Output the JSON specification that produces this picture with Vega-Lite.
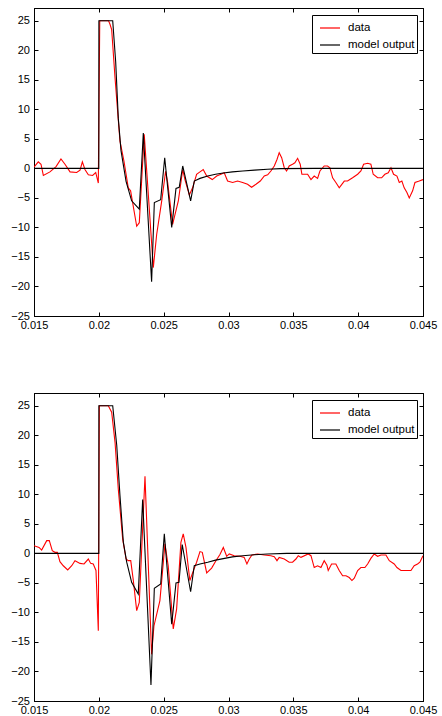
{
  "$schema": "https://vega.github.io/schema/vega-lite/v6.json",
  "padding": {"left": 10, "top": 7, "right": 0, "bottom": 0},
  "background": "white",
  "datasets": {
    "top": [
      {"s": "data", "t": 0.015, "v": 0.2}, {"s": "data", "t": 0.01533, "v": 1.1}, {"s": "data", "t": 0.01554, "v": 0.7},
      {"s": "data", "t": 0.01572, "v": -1.2}, {"s": "data", "t": 0.01623, "v": -0.6}, {"s": "data", "t": 0.0167, "v": 0.3},
      {"s": "data", "t": 0.01708, "v": 1.6}, {"s": "data", "t": 0.01739, "v": 0.7}, {"s": "data", "t": 0.01778, "v": -0.6},
      {"s": "data", "t": 0.01829, "v": -0.7}, {"s": "data", "t": 0.01855, "v": -0.3}, {"s": "data", "t": 0.01873, "v": 1.1},
      {"s": "data", "t": 0.01893, "v": -0.2}, {"s": "data", "t": 0.01919, "v": -1.1}, {"s": "data", "t": 0.01952, "v": -1.2},
      {"s": "data", "t": 0.01976, "v": -0.7}, {"s": "data", "t": 0.01996, "v": -2.5}, {"s": "data", "t": 0.02007, "v": 25},
      {"s": "data", "t": 0.02075, "v": 25}, {"s": "data", "t": 0.02086, "v": 24.4}, {"s": "data", "t": 0.02099, "v": 23.5},
      {"s": "data", "t": 0.02125, "v": 15.3}, {"s": "data", "t": 0.02163, "v": 4.6}, {"s": "data", "t": 0.02194, "v": 1.2},
      {"s": "data", "t": 0.02227, "v": -3.3}, {"s": "data", "t": 0.02245, "v": -3.8}, {"s": "data", "t": 0.02292, "v": -9.8},
      {"s": "data", "t": 0.02312, "v": -9.2}, {"s": "data", "t": 0.0235, "v": 5.75}, {"s": "data", "t": 0.0242, "v": -16.8},
      {"s": "data", "t": 0.02446, "v": -11.2}, {"s": "data", "t": 0.02485, "v": -5.5}, {"s": "data", "t": 0.02515, "v": -0.5},
      {"s": "data", "t": 0.02531, "v": -2.4}, {"s": "data", "t": 0.02569, "v": -9.5}, {"s": "data", "t": 0.02613, "v": -5.5},
      {"s": "data", "t": 0.02647, "v": -0.2}, {"s": "data", "t": 0.02664, "v": -1.9}, {"s": "data", "t": 0.02698, "v": -4.5},
      {"s": "data", "t": 0.02723, "v": -3.3}, {"s": "data", "t": 0.02754, "v": -1.0}, {"s": "data", "t": 0.0278, "v": -0.6},
      {"s": "data", "t": 0.02805, "v": -0.2}, {"s": "data", "t": 0.02832, "v": -1.3}, {"s": "data", "t": 0.02875, "v": -1.9},
      {"s": "data", "t": 0.02909, "v": -1.3}, {"s": "data", "t": 0.02942, "v": -1.0}, {"s": "data", "t": 0.02967, "v": -0.75},
      {"s": "data", "t": 0.02993, "v": -2.15}, {"s": "data", "t": 0.03032, "v": -2.4}, {"s": "data", "t": 0.0307, "v": -2.15},
      {"s": "data", "t": 0.03109, "v": -2.4}, {"s": "data", "t": 0.03147, "v": -2.7}, {"s": "data", "t": 0.03178, "v": -3.2},
      {"s": "data", "t": 0.03212, "v": -2.7}, {"s": "data", "t": 0.03245, "v": -2.15}, {"s": "data", "t": 0.03276, "v": -1.3},
      {"s": "data", "t": 0.03302, "v": -1.1}, {"s": "data", "t": 0.03327, "v": -0.45}, {"s": "data", "t": 0.03353, "v": 0.4},
      {"s": "data", "t": 0.03374, "v": 1.5}, {"s": "data", "t": 0.03391, "v": 2.65}, {"s": "data", "t": 0.0341, "v": 1.8},
      {"s": "data", "t": 0.0343, "v": 0.1}, {"s": "data", "t": 0.03448, "v": -0.45}, {"s": "data", "t": 0.03468, "v": 0.4},
      {"s": "data", "t": 0.03494, "v": 0.7}, {"s": "data", "t": 0.03512, "v": 0.95}, {"s": "data", "t": 0.03533, "v": 1.7},
      {"s": "data", "t": 0.03553, "v": 0.7}, {"s": "data", "t": 0.03566, "v": -1.0}, {"s": "data", "t": 0.0361, "v": -1.0},
      {"s": "data", "t": 0.03636, "v": -1.9}, {"s": "data", "t": 0.03661, "v": -1.3}, {"s": "data", "t": 0.03687, "v": -1.7},
      {"s": "data", "t": 0.03705, "v": -0.45}, {"s": "data", "t": 0.03738, "v": 0.4}, {"s": "data", "t": 0.03764, "v": 0.4},
      {"s": "data", "t": 0.03782, "v": 0.1}, {"s": "data", "t": 0.03803, "v": -1.6}, {"s": "data", "t": 0.03828, "v": -2.4},
      {"s": "data", "t": 0.03854, "v": -3.3}, {"s": "data", "t": 0.03893, "v": -2.15}, {"s": "data", "t": 0.03918, "v": -2.15},
      {"s": "data", "t": 0.03957, "v": -1.6}, {"s": "data", "t": 0.03996, "v": -1.0}, {"s": "data", "t": 0.04021, "v": -0.45},
      {"s": "data", "t": 0.04042, "v": 0.7}, {"s": "data", "t": 0.04073, "v": 0.85}, {"s": "data", "t": 0.04098, "v": 0.7},
      {"s": "data", "t": 0.04116, "v": -1.0}, {"s": "data", "t": 0.0415, "v": -1.6}, {"s": "data", "t": 0.04181, "v": -1.6},
      {"s": "data", "t": 0.04206, "v": -1.0}, {"s": "data", "t": 0.04232, "v": -0.75}, {"s": "data", "t": 0.04253, "v": 0.1},
      {"s": "data", "t": 0.04273, "v": -1.0}, {"s": "data", "t": 0.04299, "v": -1.3}, {"s": "data", "t": 0.04317, "v": -2.4},
      {"s": "data", "t": 0.04337, "v": -2.15}, {"s": "data", "t": 0.04355, "v": -3.3}, {"s": "data", "t": 0.04376, "v": -4.1},
      {"s": "data", "t": 0.04394, "v": -5.0}, {"s": "data", "t": 0.0442, "v": -3.8}, {"s": "data", "t": 0.04438, "v": -2.4},
      {"s": "data", "t": 0.04471, "v": -2.15}, {"s": "data", "t": 0.045, "v": -1.9},
      {"s": "model output", "t": 0.015, "v": 0}, {"s": "model output", "t": 0.02, "v": 0}, {"s": "model output", "t": 0.020005, "v": 25},
      {"s": "model output", "t": 0.02107, "v": 25}, {"s": "model output", "t": 0.0213, "v": 18}, {"s": "model output", "t": 0.0215, "v": 8.5},
      {"s": "model output", "t": 0.02171, "v": 3.0}, {"s": "model output", "t": 0.0221, "v": -2.2}, {"s": "model output", "t": 0.02253, "v": -5.5},
      {"s": "model output", "t": 0.02312, "v": -6.9}, {"s": "model output", "t": 0.02343, "v": 6.0}, {"s": "model output", "t": 0.02407, "v": -19.2},
      {"s": "model output", "t": 0.02428, "v": -5.8}, {"s": "model output", "t": 0.02477, "v": -5.3}, {"s": "model output", "t": 0.02508, "v": 1.8},
      {"s": "model output", "t": 0.02562, "v": -10.0}, {"s": "model output", "t": 0.02595, "v": -3.4}, {"s": "model output", "t": 0.0262, "v": -3.2},
      {"s": "model output", "t": 0.02647, "v": 0.4}, {"s": "model output", "t": 0.02708, "v": -5.5}, {"s": "model output", "t": 0.02736, "v": -2.15},
      {"s": "model output", "t": 0.0278, "v": -1.7}, {"s": "model output", "t": 0.0284, "v": -1.3}, {"s": "model output", "t": 0.029, "v": -1.0},
      {"s": "model output", "t": 0.0296, "v": -0.8}, {"s": "model output", "t": 0.0303, "v": -0.6}, {"s": "model output", "t": 0.0311, "v": -0.45},
      {"s": "model output", "t": 0.032, "v": -0.3}, {"s": "model output", "t": 0.033, "v": -0.15}, {"s": "model output", "t": 0.034, "v": -0.05},
      {"s": "model output", "t": 0.0367, "v": 0}, {"s": "model output", "t": 0.045, "v": 0}
    ],
    "bottom": [
      {"s": "data", "t": 0.015, "v": 1.3}, {"s": "data", "t": 0.01539, "v": 1.0}, {"s": "data", "t": 0.01559, "v": 0.56},
      {"s": "data", "t": 0.01598, "v": 2.15}, {"s": "data", "t": 0.01618, "v": 2.15}, {"s": "data", "t": 0.01641, "v": 0.45},
      {"s": "data", "t": 0.01662, "v": 0.17}, {"s": "data", "t": 0.0168, "v": 0.17}, {"s": "data", "t": 0.017, "v": -1.4},
      {"s": "data", "t": 0.01726, "v": -2.1}, {"s": "data", "t": 0.0176, "v": -2.8}, {"s": "data", "t": 0.01791, "v": -2.1},
      {"s": "data", "t": 0.01816, "v": -1.24}, {"s": "data", "t": 0.01855, "v": -1.7}, {"s": "data", "t": 0.01886, "v": -1.8},
      {"s": "data", "t": 0.01919, "v": -0.96}, {"s": "data", "t": 0.01937, "v": -1.7}, {"s": "data", "t": 0.01957, "v": -1.8},
      {"s": "data", "t": 0.01978, "v": -2.9}, {"s": "data", "t": 0.01996, "v": -13.1}, {"s": "data", "t": 0.02004, "v": 25},
      {"s": "data", "t": 0.02073, "v": 25}, {"s": "data", "t": 0.02099, "v": 23.9}, {"s": "data", "t": 0.02125, "v": 18.8},
      {"s": "data", "t": 0.0215, "v": 10.9}, {"s": "data", "t": 0.02184, "v": 2.4}, {"s": "data", "t": 0.0221, "v": -0.96},
      {"s": "data", "t": 0.02227, "v": -1.24}, {"s": "data", "t": 0.02246, "v": -1.24}, {"s": "data", "t": 0.02266, "v": -4.6},
      {"s": "data", "t": 0.02292, "v": -9.7}, {"s": "data", "t": 0.02312, "v": -8.3}, {"s": "data", "t": 0.02356, "v": 13.05},
      {"s": "data", "t": 0.02407, "v": -17.1}, {"s": "data", "t": 0.02425, "v": -12.3}, {"s": "data", "t": 0.02471, "v": -8.0},
      {"s": "data", "t": 0.0251, "v": 1.6}, {"s": "data", "t": 0.02535, "v": -2.1}, {"s": "data", "t": 0.02554, "v": -7.2},
      {"s": "data", "t": 0.02574, "v": -12.8}, {"s": "data", "t": 0.026, "v": -9.4}, {"s": "data", "t": 0.02633, "v": 1.86},
      {"s": "data", "t": 0.02651, "v": 3.3}, {"s": "data", "t": 0.02672, "v": 1.0}, {"s": "data", "t": 0.02702, "v": -4.6},
      {"s": "data", "t": 0.02728, "v": -3.0}, {"s": "data", "t": 0.02754, "v": -1.5}, {"s": "data", "t": 0.0278, "v": 0.3},
      {"s": "data", "t": 0.02798, "v": 0.17}, {"s": "data", "t": 0.02832, "v": -3.3}, {"s": "data", "t": 0.0287, "v": -2.5},
      {"s": "data", "t": 0.02903, "v": -1.24}, {"s": "data", "t": 0.02934, "v": -0.2}, {"s": "data", "t": 0.0296, "v": 1.0},
      {"s": "data", "t": 0.02986, "v": -0.5}, {"s": "data", "t": 0.03006, "v": -0.1}, {"s": "data", "t": 0.03044, "v": -0.4},
      {"s": "data", "t": 0.03089, "v": -0.5}, {"s": "data", "t": 0.03121, "v": -0.68}, {"s": "data", "t": 0.03142, "v": -1.8},
      {"s": "data", "t": 0.0316, "v": -0.96}, {"s": "data", "t": 0.03181, "v": -0.28}, {"s": "data", "t": 0.03225, "v": -0.1},
      {"s": "data", "t": 0.03276, "v": -0.28}, {"s": "data", "t": 0.03327, "v": -0.4}, {"s": "data", "t": 0.03353, "v": -0.56},
      {"s": "data", "t": 0.03374, "v": -1.24}, {"s": "data", "t": 0.03391, "v": -0.68}, {"s": "data", "t": 0.0343, "v": -0.96},
      {"s": "data", "t": 0.03468, "v": -1.5}, {"s": "data", "t": 0.03494, "v": -1.5}, {"s": "data", "t": 0.0352, "v": -0.96},
      {"s": "data", "t": 0.03538, "v": -0.4}, {"s": "data", "t": 0.03559, "v": -0.68}, {"s": "data", "t": 0.03615, "v": -0.1},
      {"s": "data", "t": 0.03636, "v": -0.4}, {"s": "data", "t": 0.03661, "v": -2.4}, {"s": "data", "t": 0.03687, "v": -2.1},
      {"s": "data", "t": 0.03713, "v": -2.4}, {"s": "data", "t": 0.03738, "v": -1.24}, {"s": "data", "t": 0.03759, "v": -2.0},
      {"s": "data", "t": 0.03769, "v": -2.9}, {"s": "data", "t": 0.03795, "v": -1.8}, {"s": "data", "t": 0.03828, "v": -1.8},
      {"s": "data", "t": 0.03854, "v": -2.9}, {"s": "data", "t": 0.0388, "v": -3.8}, {"s": "data", "t": 0.03906, "v": -3.8},
      {"s": "data", "t": 0.03931, "v": -4.1}, {"s": "data", "t": 0.03952, "v": -4.6}, {"s": "data", "t": 0.0397, "v": -4.2},
      {"s": "data", "t": 0.03996, "v": -2.9}, {"s": "data", "t": 0.04021, "v": -2.4}, {"s": "data", "t": 0.04052, "v": -2.4},
      {"s": "data", "t": 0.04073, "v": -1.8}, {"s": "data", "t": 0.04098, "v": -0.85}, {"s": "data", "t": 0.04124, "v": -0.1},
      {"s": "data", "t": 0.0415, "v": -0.5}, {"s": "data", "t": 0.04176, "v": -0.28}, {"s": "data", "t": 0.04214, "v": -0.28},
      {"s": "data", "t": 0.0424, "v": -1.24}, {"s": "data", "t": 0.04278, "v": -1.8}, {"s": "data", "t": 0.04299, "v": -2.4},
      {"s": "data", "t": 0.0433, "v": -2.9}, {"s": "data", "t": 0.04368, "v": -2.9}, {"s": "data", "t": 0.04407, "v": -2.9},
      {"s": "data", "t": 0.04432, "v": -2.1}, {"s": "data", "t": 0.04458, "v": -1.8}, {"s": "data", "t": 0.04476, "v": -1.5},
      {"s": "data", "t": 0.045, "v": -0.4},
      {"s": "model output", "t": 0.015, "v": 0}, {"s": "model output", "t": 0.02, "v": 0}, {"s": "model output", "t": 0.020005, "v": 25},
      {"s": "model output", "t": 0.02107, "v": 25}, {"s": "model output", "t": 0.02138, "v": 18.3}, {"s": "model output", "t": 0.02163, "v": 9.8},
      {"s": "model output", "t": 0.02189, "v": 1.9}, {"s": "model output", "t": 0.02215, "v": -1.5}, {"s": "model output", "t": 0.02253, "v": -4.9},
      {"s": "model output", "t": 0.02304, "v": -6.9}, {"s": "model output", "t": 0.02338, "v": 9.1}, {"s": "model output", "t": 0.02402, "v": -22.3},
      {"s": "model output", "t": 0.02428, "v": -5.9}, {"s": "model output", "t": 0.02477, "v": -5.2}, {"s": "model output", "t": 0.02505, "v": 3.3},
      {"s": "model output", "t": 0.02562, "v": -12.0}, {"s": "model output", "t": 0.02595, "v": -5.0}, {"s": "model output", "t": 0.02618, "v": -4.9},
      {"s": "model output", "t": 0.02643, "v": 1.5}, {"s": "model output", "t": 0.02708, "v": -6.5}, {"s": "model output", "t": 0.02736, "v": -2.1},
      {"s": "model output", "t": 0.0278, "v": -1.8}, {"s": "model output", "t": 0.0284, "v": -1.5}, {"s": "model output", "t": 0.029, "v": -1.15},
      {"s": "model output", "t": 0.0296, "v": -0.9}, {"s": "model output", "t": 0.0303, "v": -0.6}, {"s": "model output", "t": 0.0311, "v": -0.4},
      {"s": "model output", "t": 0.032, "v": -0.25}, {"s": "model output", "t": 0.033, "v": -0.12}, {"s": "model output", "t": 0.0345, "v": 0},
      {"s": "model output", "t": 0.045, "v": 0}
    ]
  },
  "vconcat": [
    {
      "width": 389, "height": 308,
      "data": {"name": "top"},
      "layer": [
        {
          "mark": {"type": "line", "clip": true, "strokeWidth": 1.1},
          "encoding": {
            "x": {"field": "t", "type": "quantitative", "scale": {"domain": [0.015, 0.045], "nice": false, "zero": false},
                  "axis": {"orient": "bottom", "values": [0.015, 0.02, 0.025, 0.03, 0.035, 0.04, 0.045], "format": "~g", "labelPadding": 7}},
            "y": {"field": "v", "type": "quantitative", "scale": {"domain": [-25, 27.15], "nice": false, "zero": false},
                  "axis": {"orient": "left", "values": [-25, -20, -15, -10, -5, 0, 5, 10, 15, 20, 25], "labelPadding": 8.5}},
            "color": {"field": "s", "type": "nominal", "scale": {"domain": ["data", "model output"], "range": ["#ff0000", "#000000"]}, "legend": {"orient": "top-right"}}
          }
        },
        {
          "mark": {"type": "line", "opacity": 0},
          "encoding": {
            "x": {"field": "t", "type": "quantitative", "scale": {"domain": [0.015, 0.045], "nice": false, "zero": false},
                  "axis": {"orient": "top", "labels": false, "values": [0.015, 0.02, 0.025, 0.03, 0.035, 0.04, 0.045]}},
            "y": {"field": "v", "type": "quantitative", "scale": {"domain": [-25, 27.15], "nice": false, "zero": false},
                  "axis": {"orient": "right", "labels": false, "values": [-25, -20, -15, -10, -5, 0, 5, 10, 15, 20, 25]}}
          }
        }
      ],
      "resolve": {"scale": {"x": "independent", "y": "independent"}, "axis": {"x": "independent", "y": "independent"}}
    },
    {
      "width": 389, "height": 308,
      "data": {"name": "bottom"},
      "layer": [
        {
          "mark": {"type": "line", "clip": true, "strokeWidth": 1.1},
          "encoding": {
            "x": {"field": "t", "type": "quantitative", "scale": {"domain": [0.015, 0.045], "nice": false, "zero": false},
                  "axis": {"orient": "bottom", "values": [0.015, 0.02, 0.025, 0.03, 0.035, 0.04, 0.045], "format": "~g", "labelPadding": 7}},
            "y": {"field": "v", "type": "quantitative", "scale": {"domain": [-25, 27.15], "nice": false, "zero": false},
                  "axis": {"orient": "left", "values": [-25, -20, -15, -10, -5, 0, 5, 10, 15, 20, 25], "labelPadding": 8.5}},
            "color": {"field": "s", "type": "nominal", "scale": {"domain": ["data", "model output"], "range": ["#ff0000", "#000000"]}, "legend": {"orient": "top-right"}}
          }
        },
        {
          "mark": {"type": "line", "opacity": 0},
          "encoding": {
            "x": {"field": "t", "type": "quantitative", "scale": {"domain": [0.015, 0.045], "nice": false, "zero": false},
                  "axis": {"orient": "top", "labels": false, "values": [0.015, 0.02, 0.025, 0.03, 0.035, 0.04, 0.045]}},
            "y": {"field": "v", "type": "quantitative", "scale": {"domain": [-25, 27.15], "nice": false, "zero": false},
                  "axis": {"orient": "right", "labels": false, "values": [-25, -20, -15, -10, -5, 0, 5, 10, 15, 20, 25]}}
          }
        }
      ],
      "resolve": {"scale": {"x": "independent", "y": "independent"}, "axis": {"x": "independent", "y": "independent"}}
    }
  ],
  "spacing": 77,
  "bounds": "flush",
  "resolve": {"scale": {"color": "independent"}, "legend": {"color": "independent"}},
  "config": {
    "view": {"stroke": "black", "strokeWidth": 1},
    "axis": {
      "grid": false, "title": null, "domainColor": "black", "domainWidth": 1, "tickColor": "black", "tickSize": -4,
      "labelFont": "Liberation Sans", "labelFontSize": 11, "labelColor": "black", "labelFlush": false, "labelOverlap": false
    },
    "legend": {
      "orient": "top-right", "offset": 6.5, "title": null, "strokeColor": "black", "fillColor": "white", "padding": 2,
      "symbolType": "stroke", "symbolSize": 400, "symbolStrokeWidth": 1.2, "symbolOffset": 5, "labelFont": "Liberation Sans", "labelFontSize": 11.5,
      "labelColor": "black", "rowPadding": -5, "labelOffset": 7, "cornerRadius": 0, "labelExpr": "datum.label + '  '"
    }
  }
}
